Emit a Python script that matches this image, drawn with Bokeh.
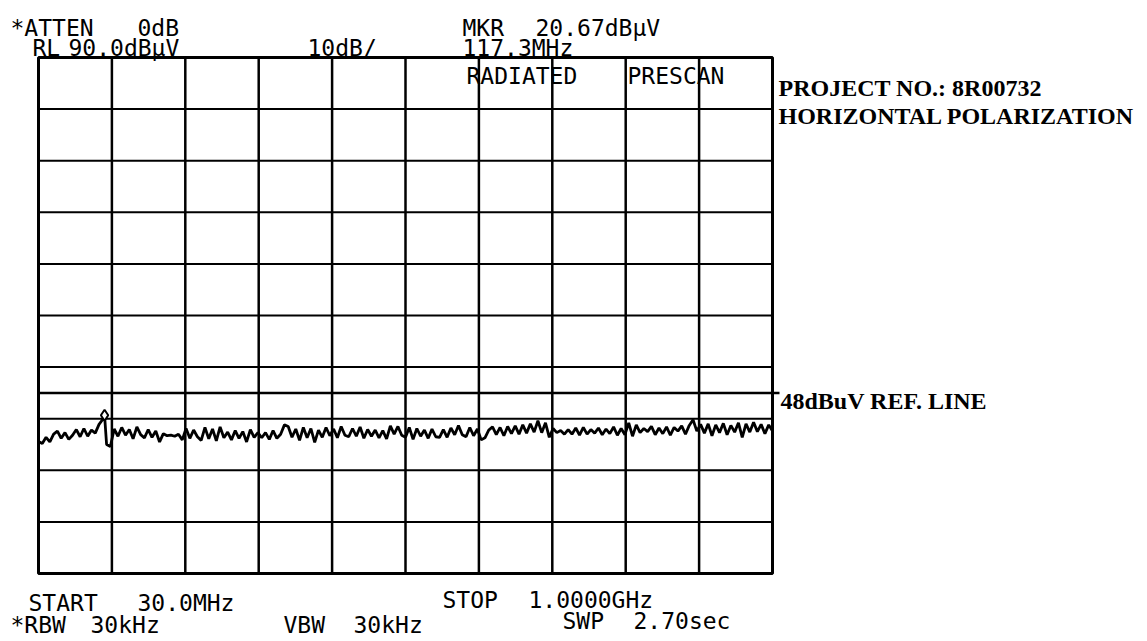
import numpy as np
from bokeh.plotting import figure
from bokeh.models import Label, Range1d
from bokeh.embed import file_html
from bokeh.resources import INLINE

# ---- data ----
start_mhz = 30.0
stop_mhz = 1000.0
ref_level_db = 90.0
db_per_div = 10.0
n_div = 10
step_mhz = 5.0

trace_levels = [
    15.6, 15.2, 16.4, 15.5, 17.0, 17.6, 16.2, 17.3, 16.0, 16.8, 17.9, 16.5, 18.1, 16.6, 17.8,
    17.2, 18.9, 19.9, 15.0, 14.6, 18.0, 16.6, 18.3, 16.8, 17.9, 16.1, 18.4, 16.9, 16.3, 17.9,
    16.4, 17.6, 15.5, 17.1, 16.7, 16.8, 16.6, 17.0, 15.9, 18.1, 16.2, 17.8, 16.5, 15.8, 18.3,
    16.1, 18.0, 15.7, 18.4, 16.3, 17.4, 15.9, 17.7, 16.2, 17.5, 15.5, 17.9, 16.4, 17.3, 16.3,
    17.3, 16.0, 17.7, 16.2, 17.0, 18.8, 18.5, 16.4, 18.0, 15.8, 18.3, 16.3, 18.1, 15.4, 17.8,
    16.4, 18.3, 16.7, 18.0, 16.3, 18.5, 16.8, 16.5, 18.1, 16.6, 18.4, 16.2, 17.9, 16.6, 17.8,
    16.3, 17.7, 16.1, 18.6, 17.0, 18.5, 16.8, 16.4, 18.3, 16.0, 18.1, 16.6, 17.8, 16.2, 18.0,
    16.5, 16.4, 17.9, 16.4, 18.2, 16.9, 18.7, 16.9, 16.5, 18.3, 16.7, 18.0, 15.9, 16.3, 17.8,
    18.4, 16.9, 18.3, 16.7, 18.5, 17.1, 18.6, 17.0, 18.8, 17.2, 19.0, 17.4, 19.6, 17.3, 19.2,
    16.4, 18.1, 17.3, 17.7, 17.0, 17.9, 17.0, 18.2, 16.8, 18.3, 17.0, 17.9, 17.2, 18.2, 16.9,
    18.0, 17.1, 18.4, 16.8, 18.1, 16.9, 19.2, 16.6, 18.8, 17.3, 18.1, 17.5, 18.5, 16.9, 18.2,
    17.1, 18.4, 16.8, 18.3, 17.6, 18.6, 17.0, 18.7, 19.8, 17.6, 18.9, 17.2, 19.0, 16.7, 18.8,
    17.3, 19.1, 16.9, 18.7, 17.4, 19.2, 16.4, 19.0, 17.4, 19.3, 17.5, 18.9, 17.1, 18.8, 17.6,
]
marker_freq = 117.3
marker_level = 20.67
ref_line_level = 25.0

# ---- series ----
freqs = list(np.arange(start_mhz, stop_mhz + step_mhz / 2, step_mhz))
pts = sorted(list(zip(freqs, trace_levels)) + [(marker_freq, marker_level)])
xs = [a for a, b in pts]
ys = [b for a, b in pts]

# ---- layout: the frame fills the whole canvas ----
W, H = 1147, 641
GL, GR, GT, GB = 38, 772, 57, 573          # graticule edges in pixels
y_lo = ref_level_db - db_per_div * n_div
mhz_per_px = (stop_mhz - start_mhz) / (GR - GL)
db_per_px = (ref_level_db - y_lo) / (GB - GT)

p = figure(width=W, height=H,
           x_range=Range1d(start_mhz - GL * mhz_per_px, start_mhz + (W - GL) * mhz_per_px),
           y_range=Range1d(y_lo - (H - GB) * db_per_px, ref_level_db + GT * db_per_px),
           output_backend="svg", toolbar_location=None,
           x_axis_location=None, y_axis_location=None,
           min_border=0)
p.background_fill_color = "white"
p.border_fill_color = "white"
p.outline_line_color = None
p.grid.grid_line_color = None

xdiv = (stop_mhz - start_mhz) / n_div
vx = [start_mhz + xdiv * i for i in range(1, n_div)]
p.segment(x0=vx, x1=vx, y0=[y_lo] * len(vx), y1=[ref_level_db] * len(vx),
          line_color="black", line_width=2.5)
hy = [y_lo + db_per_div * i for i in range(1, n_div)]
p.segment(x0=[start_mhz] * len(hy), x1=[stop_mhz] * len(hy), y0=hy, y1=hy,
          line_color="black", line_width=2)
p.quad(left=[start_mhz], right=[stop_mhz], bottom=[y_lo], top=[ref_level_db],
       fill_color=None, line_color="black", line_width=3)

# reference line (runs slightly past the right edge, up to its label)
p.segment(x0=[start_mhz], x1=[stop_mhz + 7 * mhz_per_px],
          y0=[ref_line_level], y1=[ref_line_level], line_color="black", line_width=2.5)

p.line(xs, ys, line_color="black", line_width=2.8)
p.scatter([marker_freq], [marker_level], marker="diamond", size=11,
          fill_color="white", line_color="black", line_width=2)


def px2x(px):
    return start_mhz + (px - GL) * mhz_per_px


def py2y(py):
    return ref_level_db - (py - GT) * db_per_px


mono = "DejaVu Sans Mono"
serif = "Liberation Serif"


def lab(txt, fx, fy, font, size, style="normal"):
    p.add_layout(Label(x=px2x(fx), y=py2y(fy), text=txt, text_font=font,
                       text_font_size=size, text_font_style=style,
                       text_color="black", text_baseline="alphabetic",
                       text_align="left"))


ms = "23px"
# analyzer annotation words: (text, left px, baseline px)
analyzer_words = [
    ("*ATTEN", 10, 27), ("0dB", 137, 27),
    ("RL", 32, 47), ("90.0dBμV", 68, 47), ("10dB/", 307, 47),
    ("MKR", 462, 27), ("20.67dBμV", 535, 27),
    ("117.3MHz", 462, 47),
    ("RADIATED", 466, 75), ("PRESCAN", 627, 75),
    ("START", 28, 602), ("30.0MHz", 137, 602),
    ("STOP", 442, 599), ("1.0000GHz", 528, 599),
    ("*RBW", 10, 624), ("30kHz", 90, 624),
    ("VBW", 283, 624), ("30kHz", 353, 624),
    ("SWP", 562, 620), ("2.70sec", 633, 620),
]
for t, x0, y0 in analyzer_words:
    lab(t, x0, y0, mono, ms)

side_texts = [("PROJECT NO.: 8R00732", 778, 87),
              ("HORIZONTAL POLARIZATION", 778, 115),
              ("48dBuV REF. LINE", 780, 400)]
for t, x0, y0 in side_texts:
    lab(t, x0, y0, serif, "24px", "bold")

open("out.html", "w").write(file_html(p, INLINE))
